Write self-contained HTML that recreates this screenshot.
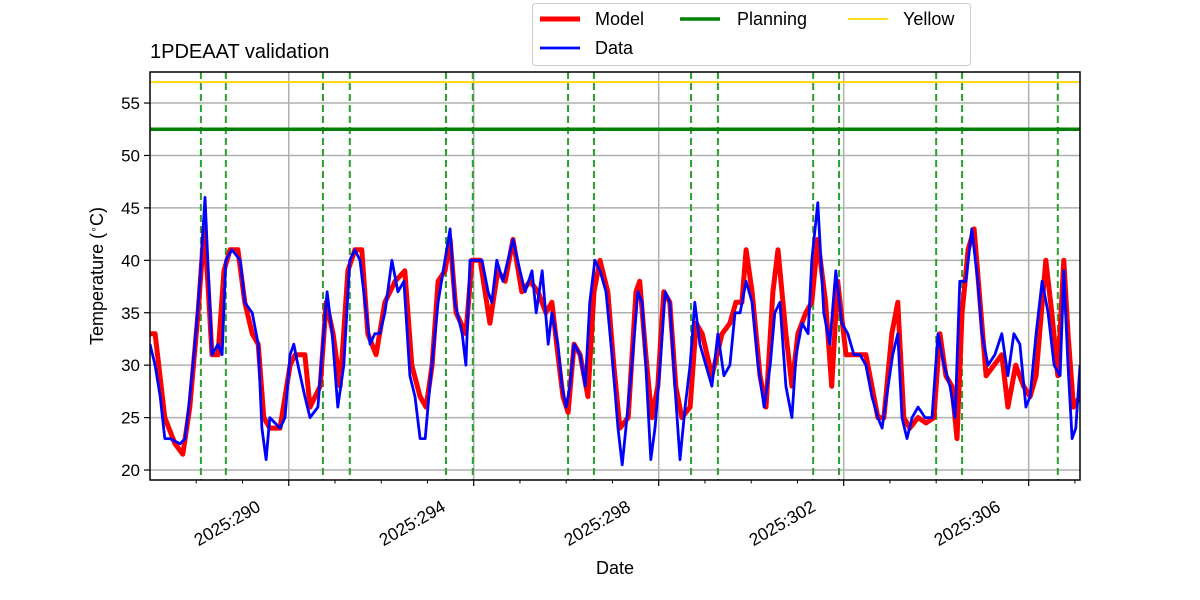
<!DOCTYPE html>
<html><head><meta charset="utf-8"><style>
body{margin:0;background:#fff;}
svg{display:block;font-family:"Liberation Sans","DejaVu Sans",sans-serif;}
</style></head><body>
<svg id="chart" width="1200" height="600" viewBox="0 0 1200 600"></svg>
<script>
const dataT=[287.00,287.11,287.22,287.32,287.43,287.65,287.76,287.86,287.97,288.08,288.19,288.25,288.34,288.47,288.56,288.64,288.77,288.95,289.05,289.21,289.34,289.42,289.51,289.59,289.81,289.92,290.03,290.11,290.20,290.35,290.46,290.63,290.72,290.83,290.94,291.06,291.19,291.32,291.43,291.54,291.65,291.76,291.86,291.97,292.08,292.23,292.36,292.49,292.62,292.73,292.84,292.95,293.05,293.23,293.34,293.49,293.59,293.75,293.83,293.92,294.05,294.18,294.31,294.39,294.50,294.63,294.74,294.85,295.00,295.11,295.26,295.35,295.48,295.61,295.69,295.82,295.91,296.00,296.08,296.17,296.30,296.41,296.51,296.62,296.73,296.86,296.99,297.12,297.21,297.29,297.42,297.55,297.64,297.72,297.83,297.92,298.03,298.14,298.24,298.35,298.46,298.57,298.68,298.78,298.89,299.02,299.15,299.28,299.41,299.54,299.65,299.76,299.89,300.02,300.15,300.28,300.41,300.51,300.62,300.75,300.88,300.97,301.10,301.23,301.31,301.44,301.57,301.70,301.83,301.96,302.09,302.22,302.35,302.48,302.61,302.74,302.83,302.96,303.06,303.17,303.26,303.37,303.48,303.61,303.76,303.91,304.04,304.17,304.30,304.41,304.51,304.64,304.77,304.90,304.99,305.12,305.27,305.42,305.55,305.68,305.81,305.94,306.03,306.16,306.29,306.42,306.55,306.68,306.76,306.85,306.94,307.02,307.11];
const dataV=[32,30,27,23,23,22.5,23,27,32,38,46,40,31,32,31,40,41,40,36,35,32,24,21,25,24,25,31,32,30,27,25,26,31,37,33,26,30,40,41,40,36,32,33,33,35,40,37,38,29,27,23,23,28,36,39,43,36,33,30,40,40,40,37,36,40,38,40,42,39,37,39,35,39,32,35,32,28,26,28,32,31,28,36,40,39,37,31,24,20.5,24,30,37,36,30,21,24,30,37,36,28,21,26,30,36,32,30,28,33,29,30,35,35,38,36,30,26,30,35,36,28,25,31,34,33,40,45.5,35,32,39,34,33,31,31,30,27,25,24,28,31,33,25,23,25,26,25,25,33,30,28,25,38,38,43,38,33,30,31,33,29,33,32,26,27,33,38,35,30,29,39,30,23,24,30];
const modelT=[287.00,287.11,287.32,287.54,287.71,287.86,288.04,288.17,288.25,288.34,288.47,288.60,288.73,288.90,289.05,289.21,289.34,289.46,289.59,289.81,290.03,290.14,290.35,290.46,290.68,290.81,290.96,291.11,291.28,291.43,291.58,291.71,291.89,292.08,292.30,292.51,292.66,292.84,292.97,293.10,293.23,293.38,293.49,293.62,293.83,293.96,294.14,294.35,294.52,294.68,294.85,295.04,295.22,295.39,295.56,295.69,295.82,295.93,296.04,296.17,296.30,296.47,296.60,296.73,296.90,297.03,297.16,297.34,297.51,297.59,297.72,297.85,297.98,298.11,298.24,298.37,298.50,298.68,298.81,298.94,299.15,299.37,299.54,299.67,299.80,299.89,300.02,300.19,300.32,300.47,300.58,300.75,300.88,301.01,301.18,301.31,301.44,301.61,301.74,301.87,302.05,302.26,302.48,302.61,302.74,302.87,303.04,303.17,303.30,303.43,303.61,303.78,303.95,304.08,304.21,304.34,304.45,304.56,304.69,304.82,304.95,305.08,305.25,305.42,305.55,305.72,305.89,306.03,306.16,306.37,306.50,306.63,306.76,306.85,306.97,307.11];
const modelV=[33,33,25,22.5,21.5,26,35,43,38,31,31,39,41,41,36,33,32,25,24,24,30,31,31,26,28,36,33,28,39,41,41,33,31,36,38,39,30,27,26,30,38,39,42,35,33,40,40,34,39,38,42,37,38,37,35,36,31,27,25.5,32,31,27,37,40,37,30,24,25,37,38,31,25,28,37,36,28,25,26,34,33,29,33,34,36,36,41,37,29,26,37,41,33,28,33,35,36,42,36,28,38,31,31,31,28,25,25,33,36,25,24,25,24.5,25,33,29,28,23,35,41,43,36,29,30,31,26,30,28,27,29,40,35,29,40,33,26,27];
const eventDays=[288.10,288.64,290.74,291.32,293.40,293.98,296.04,296.60,298.70,299.28,301.34,301.90,304.00,304.56,306.63];
const planningLimit=52.5;
const yellowLimit=57;
const xTicks=[290,294,298,302,306];
const xTickLabels=["2025:290","2025:294","2025:298","2025:302","2025:306"];
const yTicks=[20,25,30,35,40,45,50,55];

const L=150,R=1080,T=72,B=480;
const xMin=287,xMax=307.11,yMin=19.05,yMax=57.96;
const X=d=>L+(d-xMin)/(xMax-xMin)*(R-L);
const Y=v=>B-(v-yMin)/(yMax-yMin)*(B-T);
const svg=document.getElementById('chart');
const NS='http://www.w3.org/2000/svg';
function mk(tag,attrs,parent){const e=document.createElementNS(NS,tag);for(const k in attrs)e.setAttribute(k,attrs[k]);(parent||svg).appendChild(e);return e;}

const defs=mk('defs',{});
const cp=mk('clipPath',{id:'clip'},defs);mk('rect',{x:L,y:T,width:R-L,height:B-T},cp);

xTicks.forEach(d=>{const l=mk('line',{x1:X(d),x2:X(d),y1:T,y2:B,stroke:'#b0b0b0','stroke-width':1.5});

});
yTicks.forEach(v=>{const l=mk('line',{x1:L,x2:R,y1:Y(v),y2:Y(v),stroke:'#b0b0b0','stroke-width':1.5});

});

const g=mk('g',{'clip-path':'url(#clip)'});


eventDays.forEach(d=>{const l=mk('line',{x1:X(d),x2:X(d),y1:T,y2:B,stroke:'#2ca02c','stroke-width':2,'stroke-dasharray':'7,4'},g);

});
const pl=mk('line',{x1:L,x2:R,y1:Y(planningLimit),y2:Y(planningLimit),stroke:'#008000','stroke-width':3.5},g);


const yl=mk('line',{x1:L,x2:R,y1:Y(yellowLimit),y2:Y(yellowLimit),stroke:'#ffd700','stroke-width':1.8},g);


const mp=mk('path',{d:modelT.map((t,i)=>(i?'L':'M')+X(t).toFixed(1)+','+Y(modelV[i]).toFixed(1)).join(''),fill:'none',stroke:'#ff0000','stroke-width':5,'stroke-linejoin':'round'},g);


const dp=mk('path',{d:dataT.map((t,i)=>(i?'L':'M')+X(t).toFixed(1)+','+Y(dataV[i]).toFixed(1)).join(''),fill:'none',stroke:'#0000ff','stroke-width':2.8,'stroke-linejoin':'round'},g);



const fr=mk('rect',{x:L,y:T,width:R-L,height:B-T,fill:'none',stroke:'#000','stroke-width':1.5});



for(let d=288;d<=307;d++){if(xTicks.includes(d))continue;mk('line',{x1:X(d),x2:X(d),y1:B,y2:B+3.5,stroke:'#000','stroke-width':1});}
xTicks.forEach((d,i)=>{mk('line',{x1:X(d),x2:X(d),y1:B,y2:B+6,stroke:'#000','stroke-width':1.2});
const ax=X(d)-27, ay=B+30;
const t=mk('text',{x:ax,y:ay,'font-size':17.5,'text-anchor':'end',transform:`rotate(-30 ${ax} ${ay})`});
t.textContent=xTickLabels[i];

});
yTicks.forEach(v=>{mk('line',{x1:L-6,x2:L,y1:Y(v),y2:Y(v),stroke:'#000','stroke-width':1.2});
const t=mk('text',{x:L-10,y:Y(v)+6,'font-size':17,'text-anchor':'end'});
t.textContent=v;

});
</script>
<svg width="1200" height="600" style="position:absolute;left:0;top:0">
<text x="615" y="574" font-size="18" text-anchor="middle" font-family="Liberation Sans, sans-serif">Date</text>
<text x="103" y="276" font-size="18" text-anchor="middle" transform="rotate(-90 103 276)" font-family="Liberation Sans, sans-serif">Temperature (<tspan baseline-shift="super" font-size="11">∘</tspan>C)</text>
<text x="150" y="58" font-size="20" font-family="Liberation Sans, sans-serif">1PDEAAT validation</text>
<g font-family="Liberation Sans, sans-serif" font-size="18">
<rect x="532.5" y="3.5" width="438" height="62" rx="3" fill="#fff" stroke="#ccc"/>
<g><line x1="540" x2="580" y1="19" y2="19" stroke="#ff0000" stroke-width="5"/><text x="595" y="25">Model</text></g>
<g><line x1="540" x2="580" y1="48" y2="48" stroke="#0000ff" stroke-width="2.8"/><text x="595" y="54">Data</text></g>
<g><line x1="680" x2="720" y1="19" y2="19" stroke="#008000" stroke-width="3.5"/><text x="737" y="25">Planning</text></g>
<g><line x1="848" x2="888" y1="19" y2="19" stroke="#ffd700" stroke-width="1.8"/><text x="903" y="25">Yellow</text></g>
</g>
</svg>
</body></html>
